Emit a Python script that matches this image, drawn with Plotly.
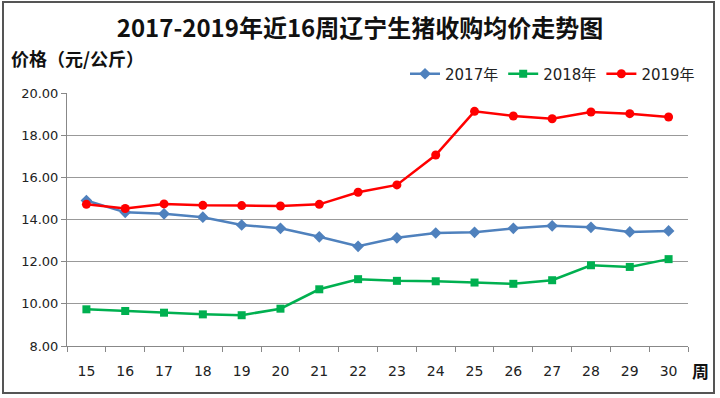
import plotly.graph_objects as go

weeks = [str(w) for w in range(15, 31)]
price_2017 = [14.90, 14.34, 14.27, 14.11, 13.74, 13.58, 13.18, 12.73, 13.13, 13.36, 13.39, 13.58, 13.70, 13.63, 13.41, 13.46]
price_2018 = [9.74, 9.66, 9.58, 9.50, 9.46, 9.77, 10.69, 11.17, 11.09, 11.07, 11.01, 10.95, 11.12, 11.83, 11.75, 12.12]
price_2019 = [14.72, 14.52, 14.74, 14.67, 14.66, 14.64, 14.72, 15.29, 15.64, 17.06, 19.13, 18.91, 18.78, 19.10, 19.02, 18.86]
y_ticks = [8, 10, 12, 14, 16, 18, 20]

W, H = 720, 398
L, R, T, B = 67, 32, 93, 52
pw, ph = W - L - R, H - T - B

def px2paper_x(x):
    return (x - L) / pw

def px2paper_y(y):
    return (H - B - y) / ph

fig = go.Figure()
fig.add_trace(go.Scatter(x=weeks, y=price_2017, name="2017年", mode="lines+markers",
                         line=dict(color="#4F81BD", width=2.5),
                         marker=dict(symbol="diamond", size=9, color="#4F81BD")))
fig.add_trace(go.Scatter(x=weeks, y=price_2018, name="2018年", mode="lines+markers",
                         line=dict(color="#00B050", width=2.5),
                         marker=dict(symbol="square", size=8, color="#00B050")))
fig.add_trace(go.Scatter(x=weeks, y=price_2019, name="2019年", mode="lines+markers",
                         line=dict(color="#FF0000", width=2.5),
                         marker=dict(symbol="circle", size=9, color="#FF0000")))

fig.update_layout(
    width=W, height=H,
    margin=dict(l=L, r=R, t=T, b=B),
    paper_bgcolor="white", plot_bgcolor="white",
    font=dict(family="DejaVu Sans, Noto Sans CJK SC", size=13, color="#222"),
    title=dict(text="<b>2017-2019年近16周辽宁生猪收购均价走势图</b>",
               x=0.5, xanchor="center", y=1 - 29 / H, yanchor="middle",
               font=dict(family="Noto Sans CJK SC", size=24, color="#111")),
    showlegend=True,
    legend=dict(orientation="h", x=px2paper_x(700), xanchor="right",
                y=px2paper_y(74), yanchor="middle",
                font=dict(family="DejaVu Sans, Noto Sans CJK SC", size=15, color="#222"),
                itemwidth=30, tracegroupgap=0, bgcolor="rgba(0,0,0,0)"),
    xaxis=dict(type="category", range=[-0.5, len(weeks) - 0.5],
               tickson="boundaries", ticks="outside", ticklen=5,
               tickcolor="#888", showline=True, linecolor="#888", linewidth=1,
               showgrid=False, tickfont=dict(size=14, family="DejaVu Sans"),
               ticklabelstandoff=12, fixedrange=True),
    yaxis=dict(range=[8, 20], tickvals=y_ticks, tickformat=".2f", ticks="outside",
               ticklen=5, tickcolor="#888", showline=True, linecolor="#888",
               linewidth=1, showgrid=True, gridcolor="#999", gridwidth=1,
               zeroline=False, tickfont=dict(size=13, family="DejaVu Sans"),
               fixedrange=True),
    shapes=[dict(type="rect", xref="paper", yref="paper",
                 x0=px2paper_x(3), x1=px2paper_x(714),
                 y0=px2paper_y(393), y1=px2paper_y(2),
                 line=dict(color="#555", width=2), fillcolor="rgba(0,0,0,0)",
                 layer="below")],
    annotations=[
        dict(text="<b>价格（元/公斤）</b>", xref="paper", yref="paper",
             x=px2paper_x(9), y=px2paper_y(58), xanchor="left", yanchor="middle",
             showarrow=False, font=dict(family="Noto Sans CJK SC", size=18, color="#111")),
        dict(text="<b>周</b>", xref="paper", yref="paper",
             x=px2paper_x(690), y=px2paper_y(370), xanchor="left", yanchor="middle",
             showarrow=False, font=dict(family="Noto Sans CJK SC", size=17, color="#111")),
    ],
)

fig.write_html("out.html", config={"displayModeBar": False},
               post_script="document.body.style.margin='0';document.body.style.padding='0';")
